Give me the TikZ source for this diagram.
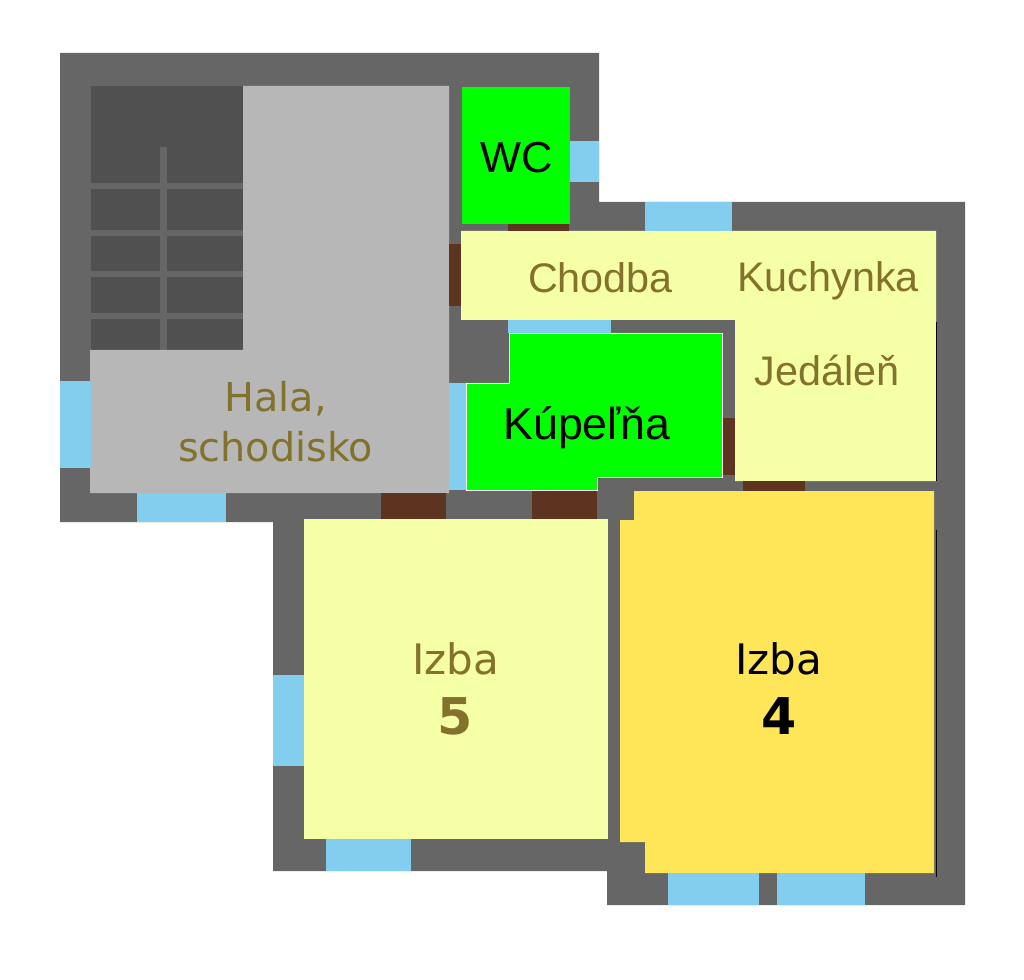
\documentclass[tikz,border=0pt]{standalone}
\usepackage{fontspec}
\setmainfont{Liberation Sans}
\newfontfamily\verdanafont{DejaVu Sans}
\definecolor{stena}{HTML}{666666}
\definecolor{schody}{HTML}{505050}
\definecolor{hala}{HTML}{B7B7B7}
\definecolor{svetla}{HTML}{F5FFA6}
\definecolor{zlta}{HTML}{FFE658}
\definecolor{zelena}{HTML}{00FF00}
\definecolor{okno}{HTML}{83CDEE}
\definecolor{dvere}{HTML}{5C3420}
\definecolor{popis}{HTML}{83722B}
\tikzstyle{stena} = [fill=stena]
\tikzstyle{okno} = [fill=okno]
\tikzstyle{dvere} = [fill=dvere]
\tikzstyle{mokra} = [fill=zelena,draw=white,line width=0.5pt]
\tikzstyle{ciara} = [draw=black,line width=0.5pt]
\tikzstyle{arial} = [text=black,anchor=base,font=\fontsize{32.5}{36}\selectfont]
\tikzstyle{arialp} = [text=popis,anchor=base,font=\fontsize{31}{36}\selectfont]
\tikzstyle{verd} = [anchor=base,font=\verdanafont\fontsize{31.5}{37.5}\selectfont]
\tikzstyle{cislo} = [anchor=base,font=\verdanafont\bfseries\fontsize{38}{44}\selectfont]
\begin{document}
\begin{tikzpicture}[x=0.75pt,y=-0.75pt]
        \useasboundingbox (0,0) rectangle (1024,980);
        %steny
        \fill[stena] (60,53) -- (599,53) -- (599,202) -- (965,202) -- (965,905) -- (607,905)
        -- (607,871) -- (273,871) -- (273,522) -- (60,522) -- cycle;
        %schodisko
        \fill[schody] (91,86) rectangle (243,350);
        \fill[stena] (160,147) rectangle (167,350);
        \foreach \y in {183,230,271,313}
            \fill[stena] (91,\y) rectangle (243,\y+6.5);
        %miestnosti
        \fill[hala] (243,86) -- (449,86) -- (449,493) -- (90,493) -- (90,350) -- (243,350) -- cycle;
        \fill[svetla] (461,231) -- (936,231) -- (936,481) -- (735,481) -- (735,320) -- (461,320) -- cycle;
        \fill[svetla] (304,519) rectangle (608,839);
        \fill[zlta] (634,491) -- (934,491) -- (934,873) -- (645,873) -- (645,842) -- (620,842) -- (620,520) -- (634,520) -- cycle;
        \fill[zelena] (462,87) rectangle (570,224);
        %okna
        \fill[okno] (570,141) rectangle (599,182);
        \fill[okno] (645,202) rectangle (732,231);
        \fill[okno] (508,320) rectangle (611,333);
        \fill[okno] (449,383) rectangle (466,490);
        \fill[okno] (60,381) rectangle (91,468);
        \fill[okno] (137,493) rectangle (226,522);
        \fill[okno] (273,675) rectangle (304,766);
        \fill[okno] (326,839) rectangle (411,871);
        \fill[okno] (668,873) rectangle (759,905);
        \fill[okno] (777,873) rectangle (865,905);
        %dvere
        \fill[dvere] (508,224) rectangle (569,231);
        \fill[dvere] (449,244) rectangle (461,306);
        \fill[dvere] (722,418) rectangle (735,475);
        \fill[dvere] (743,481) rectangle (805,491);
        \fill[dvere] (381,493) rectangle (446,519);
        \fill[dvere] (532,490) rectangle (597,519);
        %kupelna
        \path[mokra] (509,333) -- (722,333) -- (722,477) -- (597,477) -- (597,490) -- (466,490) -- (466,383) -- (509,383) -- cycle;
        %ciary
        \draw[ciara] (936.5,322) -- (936.5,481);
        \draw[ciara] (936.5,530) -- (936.5,877);
        %popisy
        \node[arial] (wc) at (517,173) {WC};
        \node[arialp] (chodba) at (600.5,293) {Chodba};
        \node[arialp] (kuchynka) at (828,292) {Kuchynka};
        \node[arialp] (jedalen) at (827,385) {Jedáleň};
        \node[arial,font=\fontsize{33.5}{36}\selectfont] (kupelna) at (587,439) {Kúpeľňa};
        \node[verd,font=\verdanafont\fontsize{29.8}{37.5}\selectfont,text=popis,align=center,anchor=center] (hala) at (275.5,422) {Hala,\\schodisko};
        \node[verd,text=popis] (izba5) at (455.5,674) {Izba};
        \node[cislo,text=popis] (cislo5) at (455,734) {5};
        \node[verd,text=black] (izba4) at (778.5,674) {Izba};
        \node[cislo,text=black] (cislo4) at (779,734) {4};
\end{tikzpicture}
\end{document}
